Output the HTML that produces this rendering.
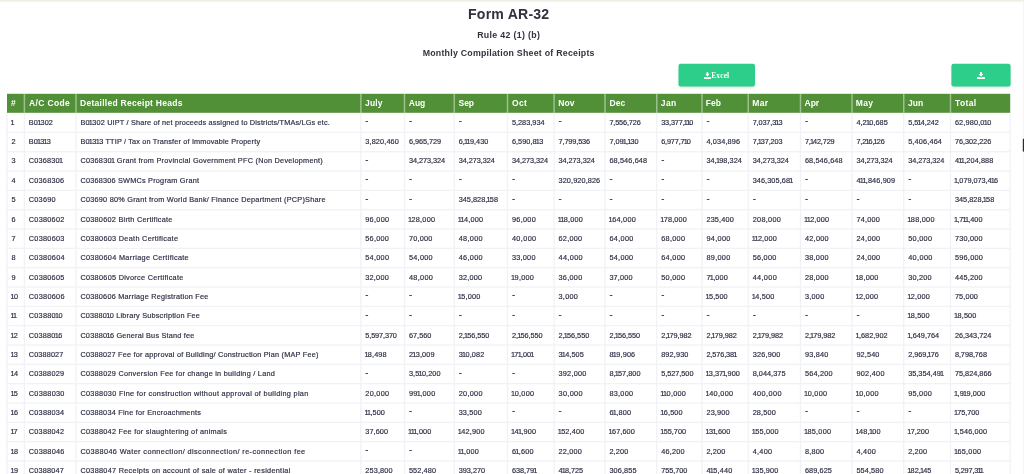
<!DOCTYPE html>
<html lang="en"><head><meta charset="utf-8"><title>Form AR-32</title>
<style>
html,body{margin:0;padding:0;}
body{width:1024px;height:474px;overflow:hidden;background:#fff;position:relative;font-family:"Liberation Sans",sans-serif;color:#2d2f45;}
#bg{position:absolute;left:0;top:0;}
.t{position:absolute;left:0;width:1017.4px;text-align:center;white-space:nowrap;color:#32323f;font-weight:bold;}
.t1{top:4.6px;font-size:14.1px;line-height:18px;letter-spacing:0.19px;}
.t2{top:29px;font-size:8.8px;line-height:12px;letter-spacing:0.33px;}
.t3{top:47.2px;font-size:8.8px;line-height:12px;letter-spacing:0.24px;}
.bt{position:absolute;top:65.3px;height:22.8px;color:#fff;font-family:"Liberation Serif",serif;font-weight:bold;font-size:7.5px;line-height:22.8px;text-align:center;white-space:nowrap;letter-spacing:0.12px;}
.h{position:absolute;top:94.3px;height:19.0px;line-height:19.0px;color:#fff;font-weight:bold;font-size:8.5px;white-space:nowrap;}
.r{position:absolute;left:0;width:1024px;height:19px;}
.r span{position:absolute;top:0;height:19px;line-height:19px;font-size:7.3px;white-space:nowrap;-webkit-text-stroke:0.18px #2d2f45;}
.r span.m{font-size:9.6px;-webkit-text-stroke:0.1px #2a2c42;}
.r b{font-weight:normal;margin:0 -0.11em;}
</style></head><body>

<svg id="bg" width="1024" height="474" viewBox="0 0 1024 474">
<defs><linearGradient id="tg" x1="0" y1="0" x2="0" y2="1"><stop offset="0" stop-color="#eceee2"/><stop offset="1" stop-color="#f7f8f3"/></linearGradient>
<filter id="sh" x="-10%" y="-20%" width="120%" height="160%"><feGaussianBlur stdDeviation="1.2"/></filter></defs>
<rect x="0" y="0" width="1024" height="2.2" fill="url(#tg)"/>
<g fill="#f0f2f6"><rect x="7" y="131.75" width="1003.2" height="1.3"/><rect x="7" y="151.08" width="1003.2" height="1.3"/><rect x="7" y="170.41" width="1003.2" height="1.3"/><rect x="7" y="189.74" width="1003.2" height="1.3"/><rect x="7" y="209.07" width="1003.2" height="1.3"/><rect x="7" y="228.4" width="1003.2" height="1.3"/><rect x="7" y="247.73" width="1003.2" height="1.3"/><rect x="7" y="267.06" width="1003.2" height="1.3"/><rect x="7" y="286.39" width="1003.2" height="1.3"/><rect x="7" y="305.72" width="1003.2" height="1.3"/><rect x="7" y="325.05" width="1003.2" height="1.3"/><rect x="7" y="344.38" width="1003.2" height="1.3"/><rect x="7" y="363.71" width="1003.2" height="1.3"/><rect x="7" y="383.04" width="1003.2" height="1.3"/><rect x="7" y="402.37" width="1003.2" height="1.3"/><rect x="7" y="421.7" width="1003.2" height="1.3"/><rect x="7" y="441.03" width="1003.2" height="1.3"/><rect x="7" y="460.36" width="1003.2" height="1.3"/><rect x="6.35" y="112.8" width="1.3" height="361.2"/><rect x="23.75" y="112.8" width="1.3" height="361.2"/><rect x="75.35" y="112.8" width="1.3" height="361.2"/><rect x="360.2" y="112.8" width="1.3" height="361.2"/><rect x="403.85" y="112.8" width="1.3" height="361.2"/><rect x="453.6" y="112.8" width="1.3" height="361.2"/><rect x="506.85" y="112.8" width="1.3" height="361.2"/><rect x="553.45" y="112.8" width="1.3" height="361.2"/><rect x="604.35" y="112.8" width="1.3" height="361.2"/><rect x="656.1" y="112.8" width="1.3" height="361.2"/><rect x="701.35" y="112.8" width="1.3" height="361.2"/><rect x="747.6" y="112.8" width="1.3" height="361.2"/><rect x="799.85" y="112.8" width="1.3" height="361.2"/><rect x="851.35" y="112.8" width="1.3" height="361.2"/><rect x="903.1" y="112.8" width="1.3" height="361.2"/><rect x="949.85" y="112.8" width="1.3" height="361.2"/><rect x="1009.55" y="112.8" width="1.3" height="361.2"/></g>
<rect x="7" y="93.8" width="1003.2" height="19.0" fill="#519037"/>
<g fill="#e9efe6" fill-opacity="0.5"><rect x="23.65" y="93.8" width="1.5" height="19.0"/><rect x="75.25" y="93.8" width="1.5" height="19.0"/><rect x="360.1" y="93.8" width="1.5" height="19.0"/><rect x="403.75" y="93.8" width="1.5" height="19.0"/><rect x="453.5" y="93.8" width="1.5" height="19.0"/><rect x="506.75" y="93.8" width="1.5" height="19.0"/><rect x="553.35" y="93.8" width="1.5" height="19.0"/><rect x="604.25" y="93.8" width="1.5" height="19.0"/><rect x="656.0" y="93.8" width="1.5" height="19.0"/><rect x="701.25" y="93.8" width="1.5" height="19.0"/><rect x="747.5" y="93.8" width="1.5" height="19.0"/><rect x="799.75" y="93.8" width="1.5" height="19.0"/><rect x="851.25" y="93.8" width="1.5" height="19.0"/><rect x="903.0" y="93.8" width="1.5" height="19.0"/><rect x="949.75" y="93.8" width="1.5" height="19.0"/></g>
<rect x="679.0" y="65.6" width="75.5" height="22" rx="2.2" fill="#50507a" fill-opacity="0.22" filter="url(#sh)"/>
<rect x="678.5" y="63.8" width="76.5" height="22.8" rx="2.3" fill="#2dce89"/>
<rect x="951.9" y="65.6" width="58.2" height="22" rx="2.2" fill="#50507a" fill-opacity="0.22" filter="url(#sh)"/>
<rect x="951.4" y="63.8" width="59.2" height="22.8" rx="2.3" fill="#2dce89"/>
<g transform="translate(703.98 71.9) scale(0.4313 0.4375)" fill="#fff"><path d="M6.1 0h3.8v4.4h2.9L8 11 3.2 4.4h2.9z"/><path d="M0 11.5h5.4l0.9 1.1h3.4l0.9-1.1H16V16H0z"/></g>
<g transform="translate(977.02 72.0) scale(0.4938 0.4313)" fill="#fff"><path d="M6.1 0h3.8v4.4h2.9L8 11 3.2 4.4h2.9z"/><path d="M0 11.5h5.4l0.9 1.1h3.4l0.9-1.1H16V16H0z"/></g>
<rect x="1022.9" y="2" width="1.1" height="472" fill="#f5f6f2"/>
<rect x="1022.8" y="138.8" width="1.2" height="12.8" fill="#2b2b38"/>
</svg>
<div class="t t1">Form AR-32</div>
<div class="t t2">Rule 42 (1) (b)</div>
<div class="t t3">Monthly Compilation Sheet of Receipts</div>
<div class="bt" style="left:711.2px;">Excel</div>
<span class="h" id="h0" style="left:11.1px;letter-spacing:1.266px">#</span>
<span class="h" id="h1" style="left:29.0px;letter-spacing:0.369px">A/C Code</span>
<span class="h" id="h2" style="left:80.1px;letter-spacing:0.271px">Detailled Receipt Heads</span>
<span class="h" id="h3" style="left:365.1px;letter-spacing:0.146px">July</span>
<span class="h" id="h4" style="left:408.85px;letter-spacing:-0.06px">Aug</span>
<span class="h" id="h5" style="left:458.6px;letter-spacing:-0.081px">Sep</span>
<span class="h" id="h6" style="left:512.1px;letter-spacing:0.226px">Oct</span>
<span class="h" id="h7" style="left:558.35px;letter-spacing:0.013px">Nov</span>
<span class="h" id="h8" style="left:609.6px;letter-spacing:0.002px">Dec</span>
<span class="h" id="h9" style="left:660.85px;letter-spacing:0.315px">Jan</span>
<span class="h" id="h10" style="left:705.85px;letter-spacing:-0.008px">Feb</span>
<span class="h" id="h11" style="left:752.35px;letter-spacing:0.242px">Mar</span>
<span class="h" id="h12" style="left:804.6px;letter-spacing:-0.097px">Apr</span>
<span class="h" id="h13" style="left:855.85px;letter-spacing:0.268px">May</span>
<span class="h" id="h14" style="left:908.1px;letter-spacing:-0.008px">Jun</span>
<span class="h" id="h15" style="left:955.1px;letter-spacing:0.333px">Total</span>
<div class="r" style="top:113px">
<span style="left:11.4px;letter-spacing:-0.107px"><b>1</b></span>
<span style="left:28.8px;letter-spacing:0.108px">B0<b>1</b>302</span>
<span id="c0_2" style="left:80.4px;letter-spacing:0.169px">B0<b>1</b>302 UIPT / Share of net proceeds assigned to Districts/TMAs/LGs etc.</span>
<span class="m" style="left:365.35px;top:-2px">-</span>
<span class="m" style="left:409.0px;top:-2px">-</span>
<span class="m" style="left:458.75px;top:-2px">-</span>
<span style="left:511.9px;letter-spacing:0.026px">5,283,934</span>
<span class="m" style="left:558.6px;top:-2px">-</span>
<span style="left:609.4px;letter-spacing:-0.142px">7,556,726</span>
<span style="left:661.15px;letter-spacing:-0.122px">33,377,<b>1</b><b>1</b>0</span>
<span class="m" style="left:706.5px;top:-2px">-</span>
<span style="left:752.65px;letter-spacing:-0.124px">7,037,3<b>1</b>3</span>
<span class="m" style="left:805.0px;top:-2px">-</span>
<span style="left:856.4px;letter-spacing:0.06px">4,2<b>1</b>0,685</span>
<span style="left:908.15px;letter-spacing:-0.02px">5,5<b>1</b>4,242</span>
<span style="left:954.9px;letter-spacing:0.158px">62,980,0<b>1</b>0</span>
</div>
<div class="r" style="top:132px">
<span style="left:11.4px;letter-spacing:0.009px">2</span>
<span style="left:28.8px;letter-spacing:0.005px">B0<b>1</b>3<b>1</b>3</span>
<span id="c1_2" style="left:80.4px;letter-spacing:0.168px">B0<b>1</b>3<b>1</b>3 TTIP / Tax on Transfer of Immovable Property</span>
<span style="left:365.25px;letter-spacing:0.147px">3,820,460</span>
<span style="left:408.9px;letter-spacing:-0.029px">6,965,729</span>
<span style="left:458.65px;letter-spacing:0.056px">6,<b>1</b><b>1</b>9,430</span>
<span style="left:511.9px;letter-spacing:0.054px">6,590,8<b>1</b>3</span>
<span style="left:558.5px;letter-spacing:-0.103px">7,799,536</span>
<span style="left:609.4px;letter-spacing:-0.007px">7,09<b>1</b>,<b>1</b>30</span>
<span style="left:661.15px;letter-spacing:-0.143px">6,977,7<b>1</b>0</span>
<span style="left:706.4px;letter-spacing:0.157px">4,034,896</span>
<span style="left:752.65px;letter-spacing:-0.133px">7,<b>1</b>37,203</span>
<span style="left:804.9px;letter-spacing:-0.14px">7,<b>1</b>42,729</span>
<span style="left:856.4px;letter-spacing:-0.116px">7,2<b>1</b>6,<b>1</b>26</span>
<span style="left:908.15px;letter-spacing:0.163px">5,406,464</span>
<span style="left:954.9px;letter-spacing:-0.013px">76,302,226</span>
</div>
<div class="r" style="top:151px">
<span style="left:11.4px;letter-spacing:0.091px">3</span>
<span style="left:28.8px;letter-spacing:0.179px">C036830<b>1</b></span>
<span id="c2_2" style="left:80.4px;letter-spacing:0.252px">C036830<b>1</b> Grant from Provincial Government PFC (Non Development)</span>
<span class="m" style="left:365.35px;top:-1px">-</span>
<span style="left:408.9px;letter-spacing:-0.028px">34,273,324</span>
<span style="left:458.65px;letter-spacing:-0.028px">34,273,324</span>
<span style="left:511.9px;letter-spacing:-0.028px">34,273,324</span>
<span style="left:558.5px;letter-spacing:-0.028px">34,273,324</span>
<span style="left:609.4px;letter-spacing:0.13px">68,546,648</span>
<span class="m" style="left:661.25px;top:-1px">-</span>
<span style="left:706.4px;letter-spacing:0.054px">34,<b>1</b>98,324</span>
<span style="left:752.65px;letter-spacing:-0.028px">34,273,324</span>
<span style="left:804.9px;letter-spacing:0.13px">68,546,648</span>
<span style="left:856.4px;letter-spacing:-0.028px">34,273,324</span>
<span style="left:908.15px;letter-spacing:-0.028px">34,273,324</span>
<span style="left:954.9px;letter-spacing:0.102px">4<b>1</b><b>1</b>,204,888</span>
</div>
<div class="r" style="top:171px">
<span style="left:11.4px;letter-spacing:0.416px">4</span>
<span style="left:28.8px;letter-spacing:0.227px">C0368306</span>
<span id="c3_2" style="left:80.4px;letter-spacing:0.216px">C0368306 SWMCs Program Grant</span>
<span class="m" style="left:365.35px;top:-2px">-</span>
<span class="m" style="left:409.0px;top:-2px">-</span>
<span class="m" style="left:458.75px;top:-2px">-</span>
<span class="m" style="left:512.0px;top:-2px">-</span>
<span style="left:558.5px;letter-spacing:0.109px">320,920,826</span>
<span class="m" style="left:609.5px;top:-2px">-</span>
<span class="m" style="left:661.25px;top:-2px">-</span>
<span class="m" style="left:706.5px;top:-2px">-</span>
<span style="left:752.65px;letter-spacing:0.09px">346,305,68<b>1</b></span>
<span class="m" style="left:805.0px;top:-2px">-</span>
<span style="left:856.4px;letter-spacing:0.127px">4<b>1</b><b>1</b>,846,909</span>
<span class="m" style="left:908.25px;top:-2px">-</span>
<span style="left:954.9px;letter-spacing:-0.023px"><b>1</b>,079,073,4<b>1</b>6</span>
</div>
<div class="r" style="top:190px">
<span style="left:11.4px;letter-spacing:0.009px">5</span>
<span style="left:28.8px;letter-spacing:0.241px">C03690</span>
<span id="c4_2" style="left:80.4px;letter-spacing:0.241px">C03690 80% Grant from World Bank/ Finance Department (PCP)Share</span>
<span class="m" style="left:365.35px;top:-1px">-</span>
<span class="m" style="left:409.0px;top:-1px">-</span>
<span style="left:458.65px;letter-spacing:0.03px">345,828,<b>1</b>58</span>
<span class="m" style="left:512.0px;top:-1px">-</span>
<span class="m" style="left:558.6px;top:-1px">-</span>
<span class="m" style="left:609.5px;top:-1px">-</span>
<span class="m" style="left:661.25px;top:-1px">-</span>
<span class="m" style="left:706.5px;top:-1px">-</span>
<span class="m" style="left:752.75px;top:-1px">-</span>
<span class="m" style="left:805.0px;top:-1px">-</span>
<span class="m" style="left:856.5px;top:-1px">-</span>
<span class="m" style="left:908.25px;top:-1px">-</span>
<span style="left:954.9px;letter-spacing:0.03px">345,828,<b>1</b>58</span>
</div>
<div class="r" style="top:210px">
<span style="left:11.4px;letter-spacing:0.28px">6</span>
<span style="left:28.8px;letter-spacing:0.256px">C0380602</span>
<span id="c5_2" style="left:80.4px;letter-spacing:0.254px">C0380602 Birth Certificate</span>
<span style="left:365.25px;letter-spacing:0.311px">96,000</span>
<span style="left:408.9px;letter-spacing:0.213px"><b>1</b>28,000</span>
<span style="left:458.65px;letter-spacing:0.216px"><b>1</b><b>1</b>4,000</span>
<span style="left:511.9px;letter-spacing:0.311px">96,000</span>
<span style="left:558.5px;letter-spacing:0.196px"><b>1</b><b>1</b>8,000</span>
<span style="left:609.4px;letter-spacing:0.271px"><b>1</b>64,000</span>
<span style="left:661.15px;letter-spacing:0.145px"><b>1</b>78,000</span>
<span style="left:706.4px;letter-spacing:0.177px">235,400</span>
<span style="left:752.65px;letter-spacing:0.313px">208,000</span>
<span style="left:804.9px;letter-spacing:0.157px"><b>1</b><b>1</b>2,000</span>
<span style="left:856.4px;letter-spacing:0.21px">74,000</span>
<span style="left:908.15px;letter-spacing:0.252px"><b>1</b>88,000</span>
<span style="left:954.9px;letter-spacing:-0.014px"><b>1</b>,7<b>1</b><b>1</b>,400</span>
</div>
<div class="r" style="top:229px">
<span style="left:11.4px;letter-spacing:-0.465px">7</span>
<span style="left:28.8px;letter-spacing:0.266px">C0380603</span>
<span id="c6_2" style="left:80.4px;letter-spacing:0.301px">C0380603 Death Certificate</span>
<span style="left:365.25px;letter-spacing:0.266px">56,000</span>
<span style="left:408.9px;letter-spacing:0.239px">70,000</span>
<span style="left:458.65px;letter-spacing:0.334px">48,000</span>
<span style="left:511.9px;letter-spacing:0.386px">40,000</span>
<span style="left:558.5px;letter-spacing:0.266px">62,000</span>
<span style="left:609.4px;letter-spacing:0.334px">64,000</span>
<span style="left:661.15px;letter-spacing:0.311px">68,000</span>
<span style="left:706.4px;letter-spacing:0.334px">94,000</span>
<span style="left:752.65px;letter-spacing:0.157px"><b>1</b><b>1</b>2,000</span>
<span style="left:804.9px;letter-spacing:0.289px">42,000</span>
<span style="left:856.4px;letter-spacing:0.289px">24,000</span>
<span style="left:908.15px;letter-spacing:0.318px">50,000</span>
<span style="left:954.9px;letter-spacing:0.218px">730,000</span>
</div>
<div class="r" style="top:248px">
<span style="left:11.4px;letter-spacing:0.28px">8</span>
<span style="left:28.8px;letter-spacing:0.307px">C0380604</span>
<span id="c7_2" style="left:80.4px;letter-spacing:0.318px">C0380604 Marriage Certificate</span>
<span style="left:365.25px;letter-spacing:0.289px">54,000</span>
<span style="left:408.9px;letter-spacing:0.289px">54,000</span>
<span style="left:458.65px;letter-spacing:0.334px">46,000</span>
<span style="left:511.9px;letter-spacing:0.248px">33,000</span>
<span style="left:558.5px;letter-spacing:0.356px">44,000</span>
<span style="left:609.4px;letter-spacing:0.289px">54,000</span>
<span style="left:661.15px;letter-spacing:0.334px">64,000</span>
<span style="left:706.4px;letter-spacing:0.311px">89,000</span>
<span style="left:752.65px;letter-spacing:0.266px">56,000</span>
<span style="left:804.9px;letter-spacing:0.28px">38,000</span>
<span style="left:856.4px;letter-spacing:0.289px">24,000</span>
<span style="left:908.15px;letter-spacing:0.386px">40,000</span>
<span style="left:954.9px;letter-spacing:0.268px">596,000</span>
</div>
<div class="r" style="top:268px">
<span style="left:11.4px;letter-spacing:0.28px">9</span>
<span style="left:28.8px;letter-spacing:0.256px">C0380605</span>
<span id="c8_2" style="left:80.4px;letter-spacing:0.282px">C0380605 Divorce Certificate</span>
<span style="left:365.25px;letter-spacing:0.234px">32,000</span>
<span style="left:408.9px;letter-spacing:0.334px">48,000</span>
<span style="left:458.65px;letter-spacing:0.234px">32,000</span>
<span style="left:511.9px;letter-spacing:0.247px"><b>1</b>9,000</span>
<span style="left:558.5px;letter-spacing:0.28px">36,000</span>
<span style="left:609.4px;letter-spacing:0.155px">37,000</span>
<span style="left:661.15px;letter-spacing:0.318px">50,000</span>
<span style="left:706.4px;letter-spacing:0.122px">7<b>1</b>,000</span>
<span style="left:752.65px;letter-spacing:0.356px">44,000</span>
<span style="left:804.9px;letter-spacing:0.266px">28,000</span>
<span style="left:856.4px;letter-spacing:0.247px"><b>1</b>8,000</span>
<span style="left:908.15px;letter-spacing:0.234px">30,200</span>
<span style="left:954.9px;letter-spacing:0.224px">445,200</span>
</div>
<div class="r" style="top:287px">
<span style="left:11.4px;letter-spacing:0.243px"><b>1</b>0</span>
<span style="left:28.8px;letter-spacing:0.29px">C0380606</span>
<span id="c9_2" style="left:80.4px;letter-spacing:0.239px">C0380606 Marriage Registration Fee</span>
<span class="m" style="left:365.35px;top:-2px">-</span>
<span class="m" style="left:409.0px;top:-2px">-</span>
<span style="left:458.65px;letter-spacing:0.202px"><b>1</b>5,000</span>
<span class="m" style="left:512.0px;top:-2px">-</span>
<span style="left:558.5px;letter-spacing:0.279px">3,000</span>
<span class="m" style="left:609.5px;top:-2px">-</span>
<span class="m" style="left:661.25px;top:-2px">-</span>
<span style="left:706.4px;letter-spacing:0.104px"><b>1</b>5,500</span>
<span style="left:752.65px;letter-spacing:0.172px"><b>1</b>4,500</span>
<span style="left:804.9px;letter-spacing:0.279px">3,000</span>
<span style="left:856.4px;letter-spacing:0.202px"><b>1</b>2,000</span>
<span style="left:908.15px;letter-spacing:0.202px"><b>1</b>2,000</span>
<span style="left:954.9px;letter-spacing:0.142px">75,000</span>
</div>
<div class="r" style="top:306px">
<span style="left:11.4px;letter-spacing:-0.107px"><b>1</b><b>1</b></span>
<span style="left:28.8px;letter-spacing:0.242px">C03880<b>1</b>0</span>
<span id="c10_2" style="left:80.4px;letter-spacing:0.196px">C03880<b>1</b>0 Library Subscription Fee</span>
<span class="m" style="left:365.35px;top:-1px">-</span>
<span class="m" style="left:409.0px;top:-1px">-</span>
<span class="m" style="left:458.75px;top:-1px">-</span>
<span class="m" style="left:512.0px;top:-1px">-</span>
<span class="m" style="left:558.6px;top:-1px">-</span>
<span class="m" style="left:609.5px;top:-1px">-</span>
<span class="m" style="left:661.25px;top:-1px">-</span>
<span class="m" style="left:706.5px;top:-1px">-</span>
<span class="m" style="left:752.75px;top:-1px">-</span>
<span class="m" style="left:805.0px;top:-1px">-</span>
<span class="m" style="left:856.5px;top:-1px">-</span>
<span style="left:908.15px;letter-spacing:0.15px"><b>1</b>8,500</span>
<span style="left:954.9px;letter-spacing:0.15px"><b>1</b>8,500</span>
</div>
<div class="r" style="top:326px">
<span style="left:11.4px;letter-spacing:-0.049px"><b>1</b>2</span>
<span style="left:28.8px;letter-spacing:0.203px">C03880<b>1</b>6</span>
<span id="c11_2" style="left:80.4px;letter-spacing:0.208px">C03880<b>1</b>6 General Bus Stand fee</span>
<span style="left:365.25px;letter-spacing:-0.099px">5,597,370</span>
<span style="left:408.9px;letter-spacing:0.038px">67,560</span>
<span style="left:458.65px;letter-spacing:-0.015px">2,<b>1</b>56,550</span>
<span style="left:511.9px;letter-spacing:-0.015px">2,<b>1</b>56,550</span>
<span style="left:558.5px;letter-spacing:-0.015px">2,<b>1</b>56,550</span>
<span style="left:609.4px;letter-spacing:-0.015px">2,<b>1</b>56,550</span>
<span style="left:661.15px;letter-spacing:-0.073px">2,<b>1</b>79,982</span>
<span style="left:706.4px;letter-spacing:-0.073px">2,<b>1</b>79,982</span>
<span style="left:752.65px;letter-spacing:-0.073px">2,<b>1</b>79,982</span>
<span style="left:804.9px;letter-spacing:-0.073px">2,<b>1</b>79,982</span>
<span style="left:856.4px;letter-spacing:0.045px"><b>1</b>,682,902</span>
<span style="left:908.15px;letter-spacing:0.018px"><b>1</b>,649,764</span>
<span style="left:954.9px;letter-spacing:-0.009px">26,343,724</span>
</div>
<div class="r" style="top:345px">
<span style="left:11.4px;letter-spacing:-0.008px"><b>1</b>3</span>
<span style="left:28.8px;letter-spacing:0.124px">C0388027</span>
<span id="c12_2" style="left:80.4px;letter-spacing:0.219px">C0388027 Fee for approval of Building/ Construction Plan (MAP Fee)</span>
<span style="left:365.25px;letter-spacing:0.113px"><b>1</b>8,498</span>
<span style="left:408.9px;letter-spacing:0.141px">2<b>1</b>3,009</span>
<span style="left:458.65px;letter-spacing:0.141px">3<b>1</b>0,082</span>
<span style="left:511.9px;letter-spacing:-0.01px"><b>1</b>7<b>1</b>,00<b>1</b></span>
<span style="left:558.5px;letter-spacing:0.077px">3<b>1</b>4,505</span>
<span style="left:609.4px;letter-spacing:0.162px">8<b>1</b>9,906</span>
<span style="left:661.15px;letter-spacing:0.152px">892,930</span>
<span style="left:706.4px;letter-spacing:-0.094px">2,576,38<b>1</b></span>
<span style="left:752.65px;letter-spacing:0.196px">326,900</span>
<span style="left:804.9px;letter-spacing:0.198px">93,840</span>
<span style="left:856.4px;letter-spacing:0.14px">92,540</span>
<span style="left:908.15px;letter-spacing:-0.042px">2,969,<b>1</b>76</span>
<span style="left:954.9px;letter-spacing:-0.052px">8,798,768</span>
</div>
<div class="r" style="top:364px">
<span style="left:11.4px;letter-spacing:0.155px"><b>1</b>4</span>
<span style="left:28.8px;letter-spacing:0.217px">C0388029</span>
<span id="c13_2" style="left:80.4px;letter-spacing:0.26px">C0388029 Conversion Fee for change in building / Land</span>
<span class="m" style="left:365.35px;top:-1px">-</span>
<span style="left:408.9px;letter-spacing:0.093px">3,5<b>1</b>0,200</span>
<span class="m" style="left:458.75px;top:-1px">-</span>
<span class="m" style="left:512.0px;top:-1px">-</span>
<span style="left:558.5px;letter-spacing:0.241px">392,000</span>
<span style="left:609.4px;letter-spacing:0.027px">8,<b>1</b>57,800</span>
<span style="left:661.15px;letter-spacing:-0.02px">5,527,500</span>
<span style="left:706.4px;letter-spacing:0.003px"><b>1</b>3,37<b>1</b>,900</span>
<span style="left:752.65px;letter-spacing:0.044px">8,044,375</span>
<span style="left:804.9px;letter-spacing:0.204px">564,200</span>
<span style="left:856.4px;letter-spacing:0.287px">902,400</span>
<span style="left:908.15px;letter-spacing:0.027px">35,354,49<b>1</b></span>
<span style="left:954.9px;letter-spacing:0.015px">75,824,866</span>
</div>
<div class="r" style="top:384px">
<span style="left:11.4px;letter-spacing:-0.049px"><b>1</b>5</span>
<span style="left:28.8px;letter-spacing:0.266px">C0388030</span>
<span id="c14_2" style="left:80.4px;letter-spacing:0.314px">C0388030 Fine for construction without approval of building plan</span>
<span style="left:365.25px;letter-spacing:0.318px">20,000</span>
<span style="left:408.9px;letter-spacing:0.252px">99<b>1</b>,000</span>
<span style="left:458.65px;letter-spacing:0.318px">20,000</span>
<span style="left:511.9px;letter-spacing:0.299px"><b>1</b>0,000</span>
<span style="left:558.5px;letter-spacing:0.332px">30,000</span>
<span style="left:609.4px;letter-spacing:0.28px">83,000</span>
<span style="left:661.15px;letter-spacing:0.241px"><b>1</b><b>1</b>0,000</span>
<span style="left:706.4px;letter-spacing:0.315px"><b>1</b>40,000</span>
<span style="left:752.65px;letter-spacing:0.415px">400,000</span>
<span style="left:804.9px;letter-spacing:0.299px"><b>1</b>0,000</span>
<span style="left:856.4px;letter-spacing:0.299px"><b>1</b>0,000</span>
<span style="left:908.15px;letter-spacing:0.266px">95,000</span>
<span style="left:954.9px;letter-spacing:0.132px"><b>1</b>,9<b>1</b>9,000</span>
</div>
<div class="r" style="top:403px">
<span style="left:11.4px;letter-spacing:0.087px"><b>1</b>6</span>
<span style="left:28.8px;letter-spacing:0.244px">C0388034</span>
<span id="c15_2" style="left:80.4px;letter-spacing:0.243px">C0388034 Fine for Encroachments</span>
<span style="left:365.25px;letter-spacing:0.085px"><b>1</b><b>1</b>,500</span>
<span class="m" style="left:409.0px;top:-2px">-</span>
<span style="left:458.65px;letter-spacing:0.151px">33,500</span>
<span class="m" style="left:512.0px;top:-2px">-</span>
<span class="m" style="left:558.6px;top:-2px">-</span>
<span style="left:609.4px;letter-spacing:0.195px">6<b>1</b>,800</span>
<span style="left:661.15px;letter-spacing:0.15px"><b>1</b>6,500</span>
<span style="left:706.4px;letter-spacing:0.182px">23,900</span>
<span style="left:752.65px;letter-spacing:0.169px">28,500</span>
<span class="m" style="left:805.0px;top:-2px">-</span>
<span class="m" style="left:856.5px;top:-2px">-</span>
<span class="m" style="left:908.25px;top:-2px">-</span>
<span style="left:954.9px;letter-spacing:-0.045px"><b>1</b>75,700</span>
</div>
<div class="r" style="top:422px">
<span style="left:11.4px;letter-spacing:-0.286px"><b>1</b>7</span>
<span style="left:28.8px;letter-spacing:0.234px">C0388042</span>
<span id="c16_2" style="left:80.4px;letter-spacing:0.27px">C0388042 Fee for slaughtering of animals</span>
<span style="left:365.25px;letter-spacing:0.103px">37,600</span>
<span style="left:408.9px;letter-spacing:0.141px"><b>1</b><b>1</b><b>1</b>,000</span>
<span style="left:458.65px;letter-spacing:0.188px"><b>1</b>42,900</span>
<span style="left:511.9px;letter-spacing:0.171px"><b>1</b>4<b>1</b>,900</span>
<span style="left:558.5px;letter-spacing:0.149px"><b>1</b>52,400</span>
<span style="left:609.4px;letter-spacing:0.1px"><b>1</b>67,600</span>
<span style="left:661.15px;letter-spacing:0.023px"><b>1</b>55,700</span>
<span style="left:706.4px;letter-spacing:0.125px"><b>1</b>3<b>1</b>,600</span>
<span style="left:752.65px;letter-spacing:0.174px"><b>1</b>55,000</span>
<span style="left:804.9px;letter-spacing:0.213px"><b>1</b>85,000</span>
<span style="left:856.4px;letter-spacing:0.171px"><b>1</b>48,<b>1</b>00</span>
<span style="left:908.15px;letter-spacing:0.025px"><b>1</b>7,200</span>
<span style="left:954.9px;letter-spacing:0.16px"><b>1</b>,546,000</span>
</div>
<div class="r" style="top:442px">
<span style="left:11.4px;letter-spacing:0.087px"><b>1</b>8</span>
<span style="left:28.8px;letter-spacing:0.268px">C0388046</span>
<span id="c17_2" style="left:80.4px;letter-spacing:0.404px">C0388046 Water connection/ disconnection/ re-connection fee</span>
<span class="m" style="left:365.35px;top:-2px">-</span>
<span class="m" style="left:409.0px;top:-2px">-</span>
<span style="left:458.65px;letter-spacing:0.182px"><b>1</b><b>1</b>,000</span>
<span style="left:511.9px;letter-spacing:0.195px">6<b>1</b>,600</span>
<span style="left:558.5px;letter-spacing:0.221px">22,000</span>
<span style="left:609.4px;letter-spacing:0.147px">2,200</span>
<span style="left:661.15px;letter-spacing:0.237px">46,200</span>
<span style="left:706.4px;letter-spacing:0.147px">2,200</span>
<span style="left:752.65px;letter-spacing:0.309px">4,400</span>
<span style="left:804.9px;letter-spacing:0.255px">8,800</span>
<span style="left:856.4px;letter-spacing:0.309px">4,400</span>
<span style="left:908.15px;letter-spacing:0.147px">2,200</span>
<span style="left:954.9px;letter-spacing:0.213px"><b>1</b>65,000</span>
</div>
<div class="r" style="top:461px">
<span style="left:11.4px;letter-spacing:0.087px"><b>1</b>9</span>
<span style="left:28.8px;letter-spacing:0.175px">C0388047</span>
<span id="c18_2" style="left:80.4px;letter-spacing:0.29px">C0388047 Receipts on account of sale of water - residential</span>
<span style="left:365.25px;letter-spacing:0.158px">253,800</span>
<span style="left:408.9px;letter-spacing:0.121px">552,480</span>
<span style="left:458.65px;letter-spacing:0.018px">393,270</span>
<span style="left:511.9px;letter-spacing:-0.016px">638,79<b>1</b></span>
<span style="left:558.5px;letter-spacing:-0.047px">4<b>1</b>8,725</span>
<span style="left:609.4px;letter-spacing:0.113px">306,855</span>
<span style="left:661.15px;letter-spacing:-0.028px">755,700</span>
<span style="left:706.4px;letter-spacing:0.182px">4<b>1</b>5,440</span>
<span style="left:752.65px;letter-spacing:0.141px"><b>1</b>35,900</span>
<span style="left:804.9px;letter-spacing:0.096px">689,625</span>
<span style="left:856.4px;letter-spacing:0.121px">554,580</span>
<span style="left:908.15px;letter-spacing:0.004px"><b>1</b>82,<b>1</b>45</span>
<span style="left:954.9px;letter-spacing:-0.137px">5,297,3<b>1</b><b>1</b></span>
</div>
</body></html>
